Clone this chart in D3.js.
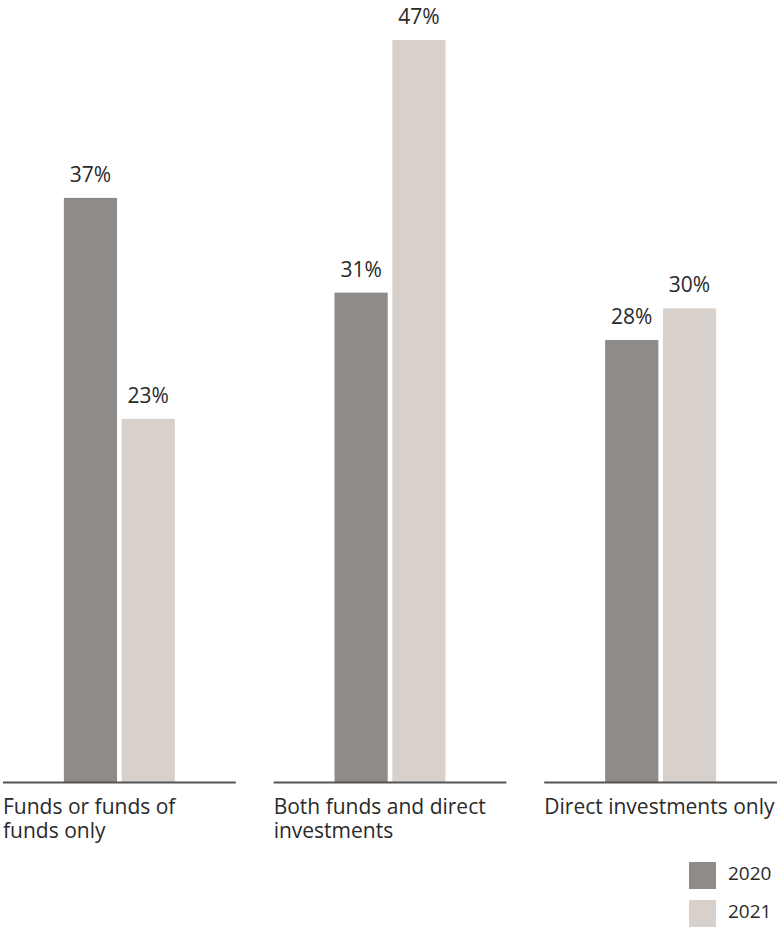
<!DOCTYPE html>
<html>
<head>
<meta charset="utf-8">
<script src="https://cdn.jsdelivr.net/npm/d3@7"></script>
<style>
  html, body { margin: 0; padding: 0; background: #fff; }
  svg { display: block; font-family: "Open Sans", "Noto Sans", sans-serif; }
</style>
</head>
<body>
<div id="chart"></div>
<script>
// ── Data ─────────────────────────────────────────────────────
const categories = ['Funds or funds of funds only', 'Both funds and direct investments', 'Direct investments only'];
const categoryLines = [
  ['Funds or funds of', 'funds only'],
  ['Both funds and direct', 'investments'],
  ['Direct investments only']
];
const years = ['2020', '2021'];
const values2020 = [37, 31, 28];
const values2021 = [23, 47, 30];

const COLORS = { '2020': '#8f8b88', '2021': '#d8d1cb' };

const W = 779, H = 927;
const baseY = 782;

const svg = d3.select('#chart').append('svg')
  .attr('width', W).attr('height', H);

const rows = categories.map((c, i) => ({
  category: c,
  lines: categoryLines[i],
  vals: [{ year: '2020', v: values2020[i] }, { year: '2021', v: values2021[i] }]
}));

// ── Scales ───────────────────────────────────────────────────
const x0 = d3.scaleBand().domain(categories).range([3, 777]).paddingInner(0.14);
const pairW = 111;
const x1 = d3.scaleBand().domain(years).range([0, pairW]).paddingInner(0.08);
const y = d3.scaleLinear().domain([0, 47]).range([baseY, 40]);

const groups = svg.selectAll('.grp').data(rows).join('g')
  .attr('class', 'grp')
  .attr('transform', d => `translate(${x0(d.category)},0)`);

// bars + value labels
groups.each(function(d) {
  const g = d3.select(this);
  const off = (x0.bandwidth() - pairW) / 2;
  g.selectAll('rect').data(d.vals).join('rect')
    .attr('x', v => off + x1(v.year))
    .attr('y', v => y(v.v))
    .attr('width', x1.bandwidth())
    .attr('height', v => baseY - y(v.v))
    .attr('fill', v => COLORS[v.year]);

  g.selectAll('.val').data(d.vals).join('text')
    .attr('class', 'val')
    .attr('x', v => off + x1(v.year) + x1.bandwidth() / 2)
    .attr('y', v => y(v.v) - 16)
    .attr('text-anchor', 'middle')
    .attr('font-size', '21px')
    .attr('fill', '#2a2a2a')
    .text(v => `${v.v}%`);
});

// baseline per group
groups.append('line')
  .attr('x1', 0).attr('x2', x0.bandwidth())
  .attr('y1', baseY + 0.5).attr('y2', baseY + 0.5)
  .attr('stroke', '#555').attr('stroke-width', 2);

// category labels
groups.append('text')
  .attr('y', baseY + 32)
  .attr('font-size', '21px')
  .attr('fill', '#2a2a2a')
  .selectAll('tspan').data(d => d.lines).join('tspan')
  .attr('x', 0)
  .attr('dy', (l, i) => i === 0 ? 0 : 24)
  .text(l => l);

// ── Legend ───────────────────────────────────────────────────
const legend = svg.append('g').attr('transform', 'translate(689,862)');
years.forEach((yr, i) => {
  legend.append('rect')
    .attr('x', 0).attr('y', i * 38)
    .attr('width', 27).attr('height', 27)
    .attr('fill', COLORS[yr]);
  legend.append('text')
    .attr('x', 39).attr('y', i * 38 + 18)
    .attr('font-size', '19px')
    .attr('fill', '#2a2a2a')
    .text(yr);
});
</script>
</body>
</html>
